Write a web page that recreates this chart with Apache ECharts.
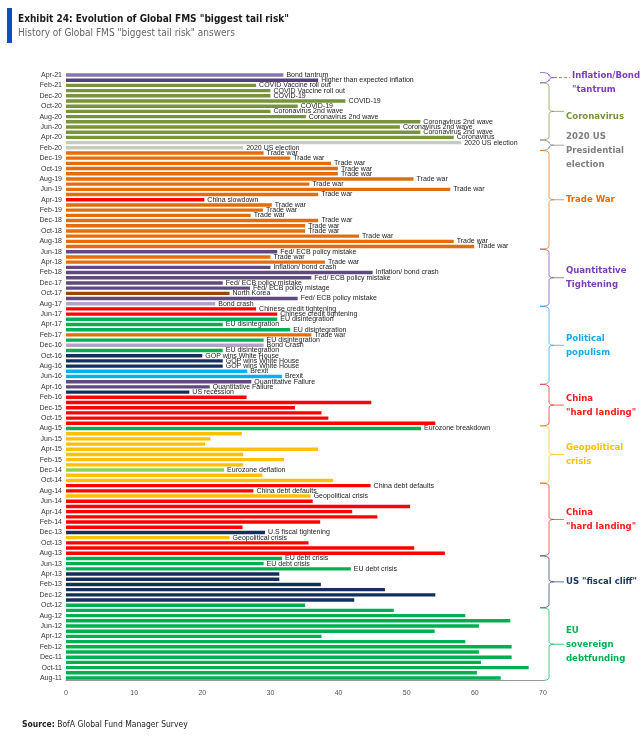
<!DOCTYPE html>
<html>
<head>
<meta charset="utf-8">
<title>Evolution of Global FMS biggest tail risk</title>
<script src="https://cdn.jsdelivr.net/npm/echarts@6/dist/echarts.min.js"></script>
<style>
    html, body { margin: 0; padding: 0; background: #fff; }
    #chart { width: 644px; height: 742px; }
</style>
</head>
<body>
<div id="chart"></div>
<script>
// survey months, newest first (top of chart)
const months = [
    'Apr-21', 'Mar-21', 'Feb-21', 'Jan-21', 'Dec-20', 'Nov-20', 'Oct-20', 'Sep-20', 'Aug-20', 'Jul-20', 'Jun-20', 'May-20',
    'Apr-20', 'Mar-20', 'Feb-20', 'Jan-20', 'Dec-19', 'Nov-19', 'Oct-19', 'Sep-19', 'Aug-19', 'Jul-19', 'Jun-19', 'May-19',
    'Apr-19', 'Mar-19', 'Feb-19', 'Jan-19', 'Dec-18', 'Nov-18', 'Oct-18', 'Sep-18', 'Aug-18', 'Jul-18', 'Jun-18', 'May-18',
    'Apr-18', 'Mar-18', 'Feb-18', 'Jan-18', 'Dec-17', 'Nov-17', 'Oct-17', 'Sep-17', 'Aug-17', 'Jul-17', 'Jun-17', 'May-17',
    'Apr-17', 'Mar-17', 'Feb-17', 'Jan-17', 'Dec-16', 'Nov-16', 'Oct-16', 'Sep-16', 'Aug-16', 'Jul-16', 'Jun-16', 'May-16',
    'Apr-16', 'Mar-16', 'Feb-16', 'Jan-16', 'Dec-15', 'Nov-15', 'Oct-15', 'Sep-15', 'Aug-15', 'Jul-15', 'Jun-15', 'May-15',
    'Apr-15', 'Mar-15', 'Feb-15', 'Jan-15', 'Dec-14', 'Nov-14', 'Oct-14', 'Sep-14', 'Aug-14', 'Jul-14', 'Jun-14', 'May-14',
    'Apr-14', 'Mar-14', 'Feb-14', 'Jan-14', 'Dec-13', 'Nov-13', 'Oct-13', 'Sep-13', 'Aug-13', 'Jul-13', 'Jun-13', 'May-13',
    'Apr-13', 'Mar-13', 'Feb-13', 'Jan-13', 'Dec-12', 'Nov-12', 'Oct-12', 'Sep-12', 'Aug-12', 'Jul-12', 'Jun-12', 'May-12',
    'Apr-12', 'Mar-12', 'Feb-12', 'Jan-12', 'Dec-11', 'Nov-11', 'Oct-11', 'Sep-11', 'Aug-11',
]

// % of respondents naming the top tail risk
const shares = [
    31.9, 37.0, 27.9, 30.0, 30.0, 41.0, 34.0, 30.0, 35.2, 52.0, 49.0, 52.0,
    56.9, 58.0, 26.0, 29.0, 32.9, 38.9, 39.9, 39.9, 51.0, 35.7, 56.4, 37.0,
    20.3, 30.2, 28.9, 27.1, 37.0, 35.1, 35.1, 43.0, 56.9, 59.9, 31.0, 30.0,
    38.0, 30.0, 45.0, 36.0, 23.0, 27.0, 24.0, 34.0, 21.9, 27.9, 31.0, 31.0,
    23.0, 32.9, 36.0, 29.0, 29.0, 23.0, 20.0, 23.0, 23.0, 26.6, 31.7, 27.2,
    21.1, 18.1, 26.5, 44.8, 33.6, 37.5, 38.5, 54.2, 52.1, 25.8, 21.2, 20.4,
    37.0, 26.0, 32.0, 26.0, 23.2, 28.8, 39.2, 44.7, 27.5, 35.9, 36.2, 50.5,
    42.0, 45.7, 37.3, 25.9, 29.2, 24.0, 35.6, 51.1, 55.6, 31.7, 29.0, 41.8,
    31.3, 31.3, 37.4, 46.8, 54.2, 42.3, 35.1, 48.1, 58.6, 65.2, 60.6, 54.1,
    37.5, 58.6, 65.4, 60.6, 65.4, 60.9, 67.9, 60.3, 63.8,
]

// answer printed next to the bar ('' = no label)
const answers = [
    'Bond tantrum', 'Higher than expected inflation', 'COVID Vaccine roll out', 'COVID Vaccine roll out', 'COVID-19', 'COVID-19',
    'COVID-19', 'Coronavirus 2nd wave', 'Coronavirus 2nd wave', 'Coronavirus 2nd wave', 'Coronavirus 2nd wave', 'Coronavirus 2nd wave',
    'Coronavirus', '2020 US election', '2020 US election', 'Trade war', 'Trade war', 'Trade war',
    'Trade war', 'Trade war', 'Trade war', 'Trade war', 'Trade war', 'Trade war',
    'China slowdown', 'Trade war', 'Trade war', 'Trade war', 'Trade war', 'Trade war',
    'Trade war', 'Trade war', 'Trade war', 'Trade war', 'Fed/ ECB policy mistake', 'Trade war',
    'Trade war', 'Inflation/ bond crash', 'Inflation/ bond crash', 'Fed/ ECB policy mistake', 'Fed/ ECB policy mistake', 'Fed/ ECB policy mistage',
    'North Korea', 'Fed/ ECB policy mistake', 'Bond crash', 'Chinese credit tightening', 'Chinese credit tightening', 'EU disintegration',
    'EU disintegration', 'EU disintegration', 'Trade war', 'EU disintegration', 'Bond Crash', 'EU disintegration',
    'GOP wins White House', 'GOP wins White House', 'GOP wins White House', 'Brexit', 'Brexit', 'Quantitative Failure',
    'Quantitative Failure', 'US recession', '', '', '', '',
    '', '', 'Eurozone breakdown', '', '', '',
    '', '', '', '', 'Eurozone deflation', '',
    '', 'China debt defaults', 'China debt defaults', 'Geopolitical crisis', '', '',
    '', '', '', '', 'U.S fiscal tightening', 'Geopolitical crisis',
    '', '', '', 'EU debt crisis', 'EU debt crisis', 'EU debt crisis',
    '', '', '', '', '', '', '', '', '', '', '', '', '', '', '', '', '', '', '', '', '',
]

// theme of each answer (drives the bar colour)
const themes = [
    'tantrum', 'inflation', 'covid', 'covid', 'covid', 'covid', 'covid', 'covid', 'covid', 'covid', 'covid', 'covid',
    'covid', 'election', 'election', 'trade', 'trade', 'trade', 'trade', 'trade', 'trade', 'trade', 'trade', 'trade',
    'china', 'trade', 'trade', 'trade', 'trade', 'trade', 'trade', 'trade', 'trade', 'trade', 'policy', 'trade',
    'trade', 'policy', 'policy', 'policy', 'policy', 'policy', 'korea', 'policy', 'bond', 'china', 'china', 'eu',
    'eu', 'eu', 'trade', 'eu', 'bond', 'eu', 'us', 'us', 'us', 'brexit', 'brexit', 'policy',
    'policy', 'us', 'china', 'china', 'china', 'china', 'china', 'china', 'eu', 'geo', 'geo', 'geo',
    'geo', 'geo', 'geo', 'geo', 'deflation', 'geo', 'geo', 'china', 'china', 'geo', 'china', 'china',
    'china', 'china', 'china', 'china', 'us', 'geo', 'china', 'china', 'china', 'eu', 'eu', 'eu',
    'us', 'us', 'us', 'us', 'us', 'us', 'eu', 'eu', 'eu', 'eu', 'eu', 'eu',
    'eu', 'eu', 'eu', 'eu', 'eu', 'eu', 'eu', 'eu', 'eu',
]

// right-hand braces: name, first and last month covered, theme
const bracketNames = [
    'Inflation/Bond\n"tantrum', 'Coronavirus', '2020 US\nPresidential\nelection', 'Trade War', 'Quantitative\nTightening',
    'Political\npopulism', 'China\n"hard landing"', 'Geopolitical\ncrisis', 'China\n"hard landing"', 'US "fiscal cliff"',
    'EU\nsovereign\ndebtfunding',
]
const bracketFirst = ['Apr-21', 'Feb-21', 'Mar-20', 'Jan-20', 'Jun-18', 'Jul-17', 'Apr-16', 'Aug-15', 'Sep-14', 'Jul-13', 'Sep-12']
const bracketLast = ['Mar-21', 'Apr-20', 'Feb-20', 'Jul-18', 'Aug-17', 'May-16', 'Sep-15', 'Oct-14', 'Aug-13', 'Oct-12', 'Aug-11']
const bracketThemes = ['qt', 'covid', 'election', 'trade', 'qt', 'brexit', 'china', 'geo', 'china', 'us', 'eu']

const barColours = {
    tantrum: '#8576ad', inflation: '#54407e', covid: '#77933c', election: '#c2ccc2', trade: '#e46c0a',
    china: '#ff0000', policy: '#5f4a80', korea: '#984806', bond: '#b3a2c7', eu: '#00b050',
    us: '#132f5e', brexit: '#00b0f0', geo: '#ffc000', deflation: '#92d050',
}
const bracketColours = {
    qt: '#7a3db8', covid: '#77933c', election: '#7f7f7f', trade: '#e46c0a', brexit: '#1aa8e8',
    china: '#ff1a1a', geo: '#ffc000', us: '#1f3864', eu: '#00b050',
}

const narrow = '"Liberation Sans Narrow", "DejaVu Sans Condensed", "Roboto", sans-serif'
const plain = '"Liberation Sans", Arial, sans-serif'

const chart = echarts.init(document.getElementById('chart'))

chart.setOption({
    animation: false,
    backgroundColor: '#fff',
    title: {
        text: 'Exhibit 24: Evolution of Global FMS "biggest tail risk"',
        subtext: 'History of Global FMS "biggest tail risk" answers',
        left: 13,
        top: 9,
        itemGap: 4,
        textStyle: { fontFamily: narrow, fontSize: 10, fontWeight: 'bold', color: '#1a1a1a' },
        subtextStyle: { fontFamily: narrow, fontSize: 10, color: '#666' },
    },
    grid: { left: 66, right: 101, top: 72.4, bottom: 61.4 },
    xAxis: {
        type: 'value',
        min: 0,
        max: 70,
        interval: 10,
        axisLine: { show: true, lineStyle: { color: '#999', width: 1 } },
        axisTick: { show: false },
        splitLine: { show: false },
        axisLabel: { fontFamily: plain, fontSize: 7, color: '#555', margin: 9 },
    },
    yAxis: {
        type: 'category',
        inverse: true,
        data: months,
        axisLine: { show: false },
        axisTick: { show: false },
        axisLabel: { interval: 1, fontFamily: plain, fontSize: 7, color: '#333', margin: 4 },
    },
    series: [{
        type: 'bar',
        barWidth: 3.4,
        data: shares.map((v, i) => ({ value: v, itemStyle: { color: barColours[themes[i]] } })),
        label: {
            show: true,
            position: 'right',
            distance: 3,
            fontFamily: plain,
            fontSize: 7,
            color: '#222',
            formatter: (p) => answers[p.dataIndex],
        },
    }],
})

function seg(x1, y1, x2, y2, colour) {
    return { type: 'line', shape: { x1, y1, x2, y2 }, style: { stroke: colour, lineWidth: 1, opacity: 0.7 } }
}
function curve(x1, y1, cpx1, cpy1, x2, y2, colour) {
    return {
        type: 'bezierCurve',
        shape: { x1, y1, cpx1, cpy1, x2, y2 },
        style: { stroke: colour, fill: 'none', lineWidth: 1, opacity: 0.7 },
    }
}

// braces drawn against the category axis so they follow the bars
function drawBrackets() {
    const half = chart.getModel().getComponent('yAxis', 0).axis.getBandWidth() / 2
    const x0 = 540, x1 = 549, xt = 554, r = 3
    const els = [
        { type: 'rect', shape: { x: 7, y: 8, width: 5, height: 35 }, style: { fill: '#0b4fc4' } },
        {
            type: 'text', x: 22, y: 725,
            style: {
                text: '{b|Source:} BofA Global Fund Manager Survey',
                rich: { b: { fontWeight: 'bold', fontFamily: narrow, fontSize: 8.5, fill: '#222' } },
                fontFamily: narrow, fontSize: 8.5, fill: '#222', verticalAlign: 'middle',
            },
        },
    ]
    bracketNames.forEach((name, i) => {
        const ya = chart.convertToPixel({ yAxisIndex: 0 }, bracketFirst[i]) - half
        const yb = chart.convertToPixel({ yAxisIndex: 0 }, bracketLast[i]) + half
        const ym = (ya + yb) / 2
        const colour = bracketColours[bracketThemes[i]]
        const tx = i === 0 ? 572 : 566
        els.push(
            curve(x0, ya, x1, ya, x1, ya + r, colour),
            seg(x1, ya + r, x1, ym - r, colour),
            curve(x1, ym - r, x1, ym, xt, ym, colour),
            curve(xt, ym, x1, ym, x1, ym + r, colour),
            seg(x1, ym + r, x1, yb - r, colour),
            curve(x1, yb - r, x1, yb, x0, yb, colour),
        )
        const tick = seg(xt, ym, tx - 2, ym, colour)
        if (i === 0) tick.style.lineDash = [3, 2]
        els.push(tick)
        const nudge = i < 3 ? 5 : 0
        els.push({
            type: 'text',
            x: tx,
            y: ym + nudge,
            style: {
                text: name,
                fill: colour,
                fontFamily: narrow,
                fontSize: 9.5,
                fontWeight: 'bold',
                lineHeight: 14,
                verticalAlign: 'middle',
                align: 'left',
            },
        })
    })
    chart.setOption({ graphic: els })
}

drawBrackets()
</script>
</body>
</html>
